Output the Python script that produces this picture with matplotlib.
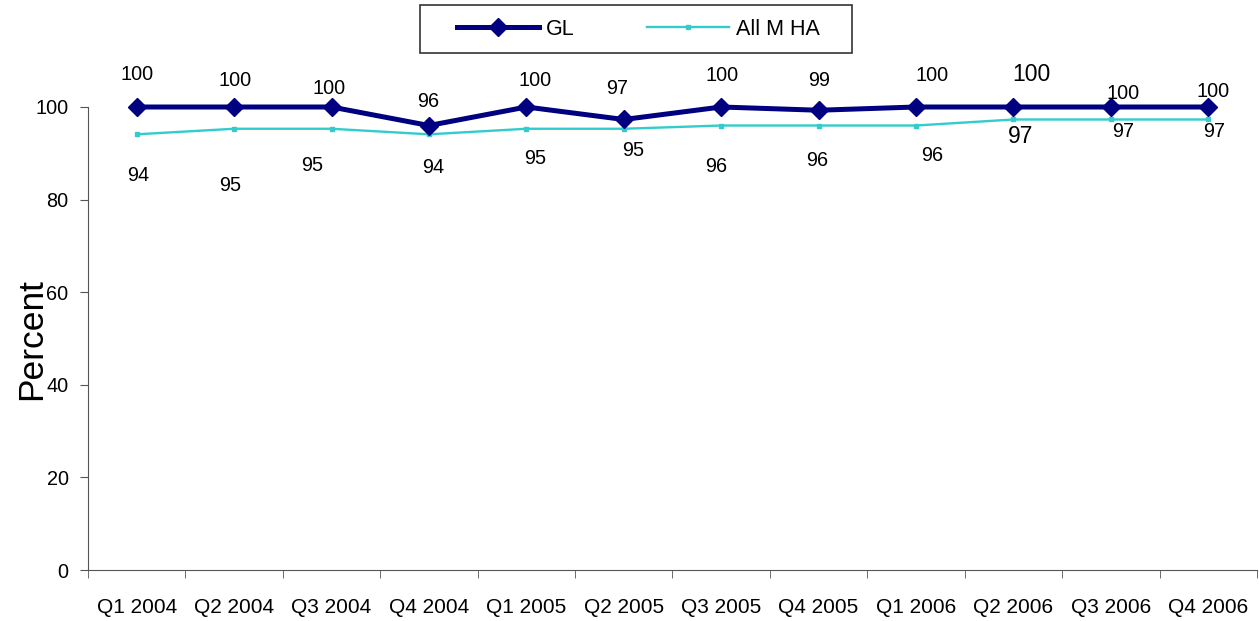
import matplotlib.pyplot as plt
from matplotlib.patches import Rectangle
import numpy as np

plt.rcParams['font.family'] = ['Liberation Sans', 'DejaVu Sans']

# Data
quarters = ["Q1 2004", "Q2 2004", "Q3 2004", "Q4 2004", "Q1 2005", "Q2 2005",
            "Q3 2005", "Q4 2005", "Q1 2006", "Q2 2006", "Q3 2006", "Q4 2006"]
gl = [100, 100, 100, 96, 100, 97.3, 100, 99.3, 100, 100, 100, 100]
all_mha = [94.1, 95.3, 95.3, 94.1, 95.3, 95.3, 96, 96, 96, 97.3, 97.3, 97.3]

# label offsets in pixels (dx, dy)
gl_offsets = [(0, 32), (1, 26), (-2, 18), (-1, 24), (9, 26), (-7, 31),
              (1, 31), (1, 30), (16, 31), (18, 32), (12, 13), (5, 15)]
mha_offsets = [(1, -41), (-4, -57), (-19, -37), (4, -33), (9, -30), (9, -22),
               (-5, -41), (-1, -35), (16, -30), (7, -17), (12, -12), (6, -12)]

fig = plt.figure(figsize=(12.59, 6.21), dpi=100)
ax = fig.add_axes([0.0699, 0.0821, 0.9285, 0.7456])

x = np.arange(len(quarters))
ax.plot(x, gl, color="#000080", linewidth=3.6, marker="D", markersize=9,
        label="GL", clip_on=False, zorder=3)
ax.plot(x, all_mha, color="#33CCCC", linewidth=1.7, marker="s", markersize=3.5,
        label="All M HA", clip_on=False, zorder=2)

# value labels
for i, v in enumerate(gl):
    fs = 16.5 if i == 9 else 14.3
    ax.annotate(f"{round(v)}", (x[i], v), xytext=gl_offsets[i], textcoords="offset pixels",
                ha="center", va="center", fontsize=fs, annotation_clip=False)
for i, v in enumerate(all_mha):
    fs = 16.5 if i == 9 else 14.3
    ax.annotate(f"{round(v)}", (x[i], v), xytext=mha_offsets[i], textcoords="offset pixels",
                ha="center", va="center", fontsize=fs, annotation_clip=False)

ax.set_xlim(-0.5, len(quarters) - 0.5)
ax.set_ylim(0, 100)
ax.set_yticks([0, 20, 40, 60, 80, 100])
ax.set_xticks(x)
ax.set_xticklabels(quarters, fontsize=15)
ax.set_xticks(np.arange(len(quarters) + 1) - 0.5, minor=True)
ax.tick_params(axis="x", which="major", length=0, pad=20)
ax.tick_params(axis="x", which="minor", length=6, color="#555555")
ax.tick_params(axis="y", length=6, labelsize=14.3, color="#555555", pad=8)
ax.set_ylabel("Percent", fontsize=25.5)
ax.yaxis.set_label_coords(-0.034, 0.5)

for s in ["top", "right"]:
    ax.spines[s].set_visible(False)
for s in ["left", "bottom"]:
    ax.spines[s].set_color("#555555")

# legend with a hand-placed box
leg = fig.legend(loc="center", bbox_to_anchor=(0.507, 0.953), ncol=2, fontsize=15.5,
                 frameon=False, handlelength=3.8, columnspacing=3.4,
                 handletextpad=0.3)
fig.patches.append(Rectangle((420 / 1259, 1 - 53 / 621), 432 / 1259, 48 / 621,
                             transform=fig.transFigure, fill=False,
                             edgecolor="#333333", linewidth=1.2))

fig.savefig("out.png", dpi=100)
